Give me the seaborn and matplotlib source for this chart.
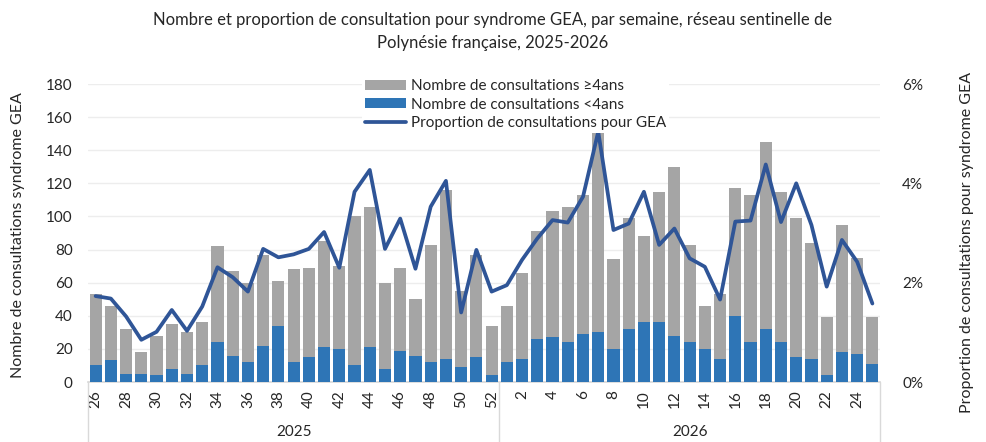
import numpy as np
import pandas as pd
import matplotlib
matplotlib.use("Agg")
import matplotlib.pyplot as plt
import matplotlib.transforms as mtransforms
from matplotlib.ticker import FuncFormatter, MultipleLocator
import seaborn as sns

# ---- data ----
weeks_2025 = list(range(26, 53))
weeks_2026 = list(range(1, 26))
years = ["2025", "2026"]

under4 = [10, 13, 5, 5, 4, 8, 5, 10, 24, 16, 12, 22, 34, 12, 15, 21, 20, 10, 21, 8, 19, 16, 12, 14, 9, 15, 4,
          12, 14, 26, 27, 24, 29, 30, 20, 32, 36, 36, 28, 24, 20, 14, 40, 24, 32, 24, 15, 14, 4, 18, 17, 11]
over4 = [43, 33, 27, 13, 24, 27, 25, 26, 58, 51, 48, 55, 27, 56, 54, 64, 50, 90, 85, 52, 50, 34, 71, 102, 46, 62, 30,
         34, 52, 65, 76, 82, 84, 122, 54, 67, 52, 79, 102, 59, 26, 39, 77, 89, 113, 91, 84, 70, 35, 77, 58, 28]
proportion = [1.73, 1.68, 1.32, 0.85, 1.01, 1.45, 1.03, 1.52, 2.31, 2.11, 1.82, 2.68, 2.51, 2.57, 2.68, 3.02, 2.30,
              3.83, 4.27, 2.68, 3.29, 2.28, 3.53, 4.05, 1.40, 2.66, 1.82,
              1.95, 2.46, 2.89, 3.26, 3.21, 3.73, 5.04, 3.06, 3.19, 3.83, 2.76, 3.09, 2.49, 2.32, 1.66, 3.23, 3.25,
              4.38, 3.22, 4.00, 3.16, 1.92, 2.86, 2.42, 1.58]

lab_over = "Nombre de consultations \u22654ans"
lab_under = "Nombre de consultations <4ans"
lab_prop = "Proportion de consultations pour GEA"

sns.set_theme(style="white")
plt.rcParams['font.family'] = ['Lato', 'DejaVu Sans']
TXT = "#262626"

week_nums = weeks_2025 + weeks_2026
year_of = [years[0]] * len(weeks_2025) + [years[1]] * len(weeks_2026)
keys = [f"{y}-S{w:02d}" for y, w in zip(year_of, week_nums)]
n = len(keys)
df = pd.DataFrame({
    "semaine": keys,
    "moins4": under4,
    "plus4": over4,
    "prop": proportion,
    "pos": np.arange(n),
})
df["total"] = df["moins4"] + df["plus4"]

fig = plt.figure(figsize=(9.87, 4.42), dpi=100)
ax = fig.add_axes([88 / 987, 1 - 382 / 442, (880 - 88) / 987, 298 / 442])

sns.barplot(data=df, x="semaine", y="total", order=keys, color="#A5A5A5", saturation=1,
            width=0.8, linewidth=0, ax=ax, label=lab_over, zorder=2)
sns.barplot(data=df, x="semaine", y="moins4", order=keys, color="#2E75B6", saturation=1,
            width=0.8, linewidth=0, ax=ax, label=lab_under, zorder=3)

ax2 = ax.twinx()
sns.lineplot(data=df, x="pos", y="prop", ax=ax2, color="#2F5597", linewidth=2.7,
             label=lab_prop, zorder=4)

ax.set_xlim(-0.5, n - 0.5)
ax.set_ylim(0, 180)
ax.yaxis.set_major_locator(MultipleLocator(20))
ax.yaxis.grid(True, color="#EDEDED", linewidth=1)
ax.set_axisbelow(True)
ax2.set_ylim(0, 6)
ax2.yaxis.set_major_locator(MultipleLocator(2))
ax2.yaxis.set_major_formatter(FuncFormatter(lambda v, p: f"{v:.0f}%"))

even_pos = [i for i, w in enumerate(week_nums) if w % 2 == 0]
ax.set_xticks(even_pos)
ax.set_xticklabels([str(week_nums[i]) for i in even_pos], rotation=90)
ax.set_xlabel("")
ax.set_ylabel("")
ax2.set_ylabel("")
ax2.set_xlabel("")

ax.tick_params(axis="x", length=0, pad=6, labelsize=11, labelcolor=TXT)
ax.tick_params(axis="y", length=0, pad=11, labelsize=11, labelcolor=TXT)
ax2.tick_params(axis="y", length=0, pad=16, labelsize=11, labelcolor=TXT)

for s in ["left", "right", "top"]:
    ax.spines[s].set_visible(False)
ax.spines["bottom"].set_color("#D9D9D9")
for s in ax2.spines.values():
    s.set_visible(False)

# year level of the category axis
trans = mtransforms.blended_transform_factory(ax.transData, ax.transAxes)
bounds = [-0.5, len(weeks_2025) - 0.5, n - 0.5]
for xb in bounds:
    ax.plot([xb, xb], [0, -0.21], transform=trans, color="#D9D9D9", lw=1, clip_on=False)
ax.text((bounds[0] + bounds[1]) / 2, -0.168, years[0], transform=trans, ha="center", va="center",
        fontsize=11, color=TXT)
ax.text((bounds[1] + bounds[2]) / 2, -0.168, years[1], transform=trans, ha="center", va="center",
        fontsize=11, color=TXT)

# legend
h1, l1 = ax.get_legend_handles_labels()
h2, l2 = ax2.get_legend_handles_labels()
if ax.get_legend() is not None:
    ax.get_legend().remove()
if ax2.get_legend() is not None:
    ax2.get_legend().remove()
leg = ax2.legend(h1 + h2, l1 + l2, loc="upper left", bbox_to_anchor=(362 / 987, 1 - 76 / 442),
                 bbox_transform=fig.transFigure, frameon=True, facecolor="white", edgecolor="none",
                 framealpha=1, fontsize=11, handlelength=2.7, handleheight=0.6, labelspacing=0.3,
                 borderpad=0.2, handletextpad=0.3, borderaxespad=0)
for t in leg.get_texts():
    t.set_color(TXT)

fig.text(493 / 987, 1 - 31.5 / 442,
         "Nombre et proportion de consultation pour syndrome GEA, par semaine, réseau sentinelle de\nPolynésie française, 2025-2026",
         ha="center", va="center", fontsize=12, color=TXT, linespacing=1.5)
fig.text(18 / 987, 1 - 235 / 442, "Nombre de consultations syndrome GEA", rotation=90,
         ha="center", va="center", fontsize=11.5, color=TXT)
fig.text(967 / 987, 1 - 242 / 442, "Proportion de consultations pour syndrome GEA", rotation=90,
         ha="center", va="center", fontsize=11.5, color=TXT)

fig.savefig("out.png", dpi=100)
